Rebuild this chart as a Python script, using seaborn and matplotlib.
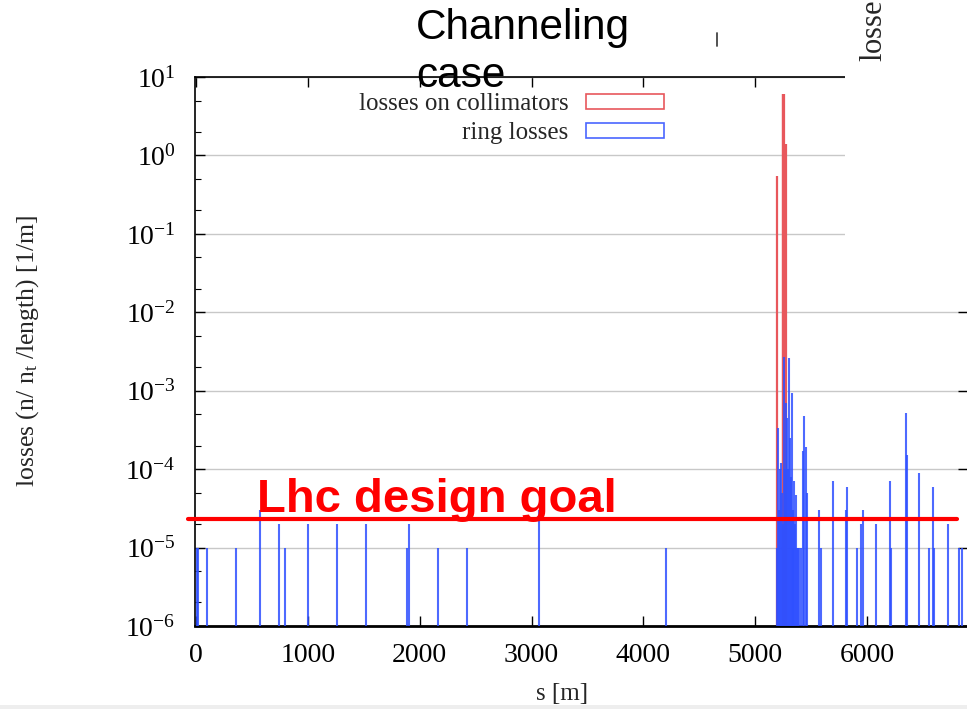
#---- Settings ---------------------------------------------------------####

import matplotlib
matplotlib.use("Agg")
import matplotlib.pyplot as plt
import seaborn as sns
import numpy as np
import pandas as pd
from matplotlib.patches import Patch, Rectangle
from matplotlib.lines import Line2D
from matplotlib.ticker import LogLocator

sns.set_style("white")
plt.rcParams['font.family'] = ['Liberation Serif', 'DejaVu Serif']
plt.rcParams['mathtext.fontset'] = 'custom'
plt.rcParams['mathtext.rm'] = 'Liberation Serif'
plt.rcParams['mathtext.it'] = 'Liberation Serif:italic'

# ring losses (blue impulses)
ring_s = [5, 18, 96, 355, 572, 740, 796, 1002, 1258, 1518, 1884, 1907, 2164, 2423,
          3067, 4203,
          5195, 5204, 5212, 5222, 5231, 5240, 5250, 5262, 5270, 5276, 5283, 5290,
          5303, 5310, 5318, 5327, 5335, 5342, 5350, 5358, 5365, 5375, 5385, 5392,
          5410, 5425, 5440, 5452, 5461, 5574, 5586, 5699, 5812, 5821, 5908, 5947,
          5962, 6078, 6206, 6215, 6349, 6355, 6465, 6555, 6588, 6599, 6722, 6823,
          6852]
ring_loss = [1e-5, 1e-5, 1e-5, 1e-5, 3e-5, 2e-5, 1e-5, 2e-5, 2e-5, 2e-5, 1e-5, 2e-5, 1e-5, 1e-5,
             3e-5, 1e-5,
             1e-5, 3.3e-4, 3e-5, 1e-4, 1.2e-4, 5e-5, 2e-5, 2.7e-3, 1e-4, 7e-4, 4.5e-4, 1e-4,
             2.6e-3, 2.5e-4, 8e-5, 9.3e-4, 3e-5, 1e-5, 7e-5, 2e-5, 4.7e-5, 1e-5, 1e-5, 1e-5,
             1e-5, 1.7e-4, 4.8e-4, 1.9e-4, 5e-5, 3e-5, 1e-5, 7e-5, 3e-5, 6e-5, 1e-5, 2e-5,
             3e-5, 2e-5, 7e-5, 1e-5, 5.2e-4, 1.5e-4, 9e-5, 1e-5, 6e-5, 1e-5, 2e-5, 1e-5,
             1e-5]

# losses on collimators (red impulses)
coll_s = [5197, 5245, 5252, 5258, 5272]
coll_loss = [0.55, 6.0, 6.0, 6.0, 1.4]

# design goal level
design_goal = 2.3e-5

ring = pd.DataFrame({'s': ring_s, 'loss': ring_loss})
coll = pd.DataFrame({'s': coll_s, 'loss': coll_loss})

ymin, ymax = 1e-6, 10


#---- Plot ---------------------------------------------------------####

W, H = 967, 709
fig = plt.figure(figsize=(9.67, 7.09), dpi=100)
ax = fig.add_axes([195 / W, 83 / H, 773 / W, 549 / H])

ax.vlines(coll['s'], ymin, coll['loss'], color='#e8575c', lw=1.6, zorder=2)
ax.vlines(ring['s'], ymin, ring['loss'], color='#2f50ff', lw=1.5, alpha=0.85, zorder=3)

ax.set_yscale('log')
ax.set_ylim(ymin, ymax)
ax.set_xlim(-9, 6903)
ax.set_xticks([0, 1000, 2000, 3000, 4000, 5000, 6000])
ax.yaxis.set_minor_locator(LogLocator(base=10, subs=(2, 5)))
ax.yaxis.grid(True, which='major', color='#c8c8c8', lw=1.0)
ax.set_axisbelow(True)
ax.tick_params(axis='both', which='both', direction='in', top=True, right=True,
               bottom=True, left=True, labelsize=20, colors='black')
ax.tick_params(axis='both', which='major', length=7, width=1.0)
ax.tick_params(axis='y', which='minor', length=4, width=0.8, right=False)
ax.tick_params(axis='x', which='major', pad=12)
ax.tick_params(axis='y', which='major', pad=14)
for sp in ax.spines.values():
    sp.set_color('black')
    sp.set_linewidth(1.2)
ax.spines['bottom'].set_linewidth(2.0)

ax.set_xlabel('s [m]', fontsize=18)
ax.xaxis.set_label_coords(0.475, -0.103)
ax.yaxis.set_label_coords(-0.199, 0.5)
ax.set_ylabel(r'losses (n/ n$_\mathrm{t}$ /length) [1/m]', fontsize=18.5)

handles = [Patch(facecolor='white', edgecolor='#e8575c', lw=1.2, label='losses on collimators'),
           Patch(facecolor='white', edgecolor='#4a66ff', lw=1.2, label='ring losses')]
ax.legend(handles=handles, loc='upper right', bbox_to_anchor=(681 / W, 1 - 76 / H),
          bbox_transform=fig.transFigure, frameon=False, markerfirst=False,
          fontsize=18, handlelength=3.1, handleheight=0.55, labelspacing=0.28,
          handletextpad=0.7, borderpad=0.2)

# design goal line and label
ax.plot([-72, 6805], [design_goal, design_goal], color='red', lw=3, clip_on=False, zorder=5)
fig.text(257 / W, 1 - 512 / H, 'Lhc design goal', color='red', fontsize=34,
         fontweight='bold', family=['Liberation Sans', 'DejaVu Sans'],
         ha='left', va='baseline')

# white patch hiding the upper right corner of the frame
fig.patches.append(Rectangle((845 / W, 1 - 300 / H), 1, 300 / H, transform=fig.transFigure,
                             facecolor='white', edgecolor='none', zorder=10))
fig.text(874 / W, 1 - 62 / H, r'losses (n/ n$_\mathrm{t}$ /length) [1/m]', rotation=90,
         fontsize=22, ha='center', va='bottom', zorder=11)
fig.lines.append(Line2D([717 / W, 717 / W], [1 - 33 / H, 1 - 46 / H], transform=fig.transFigure,
                        color='#444444', lw=1.3, zorder=11))

fig.text(416 / W, 1 - 8 / H, 'Channeling\ncase', color='black', fontsize=30.5,
         family=['Liberation Sans', 'DejaVu Sans'], ha='left', va='top',
         linespacing=1.27, zorder=12)

# light grey strip at the bottom
fig.patches.append(Rectangle((0, 0), 1, 4 / H, transform=fig.transFigure,
                             facecolor='#eeeeee', edgecolor='none', zorder=10))

plt.savefig('out.png', dpi=100)
